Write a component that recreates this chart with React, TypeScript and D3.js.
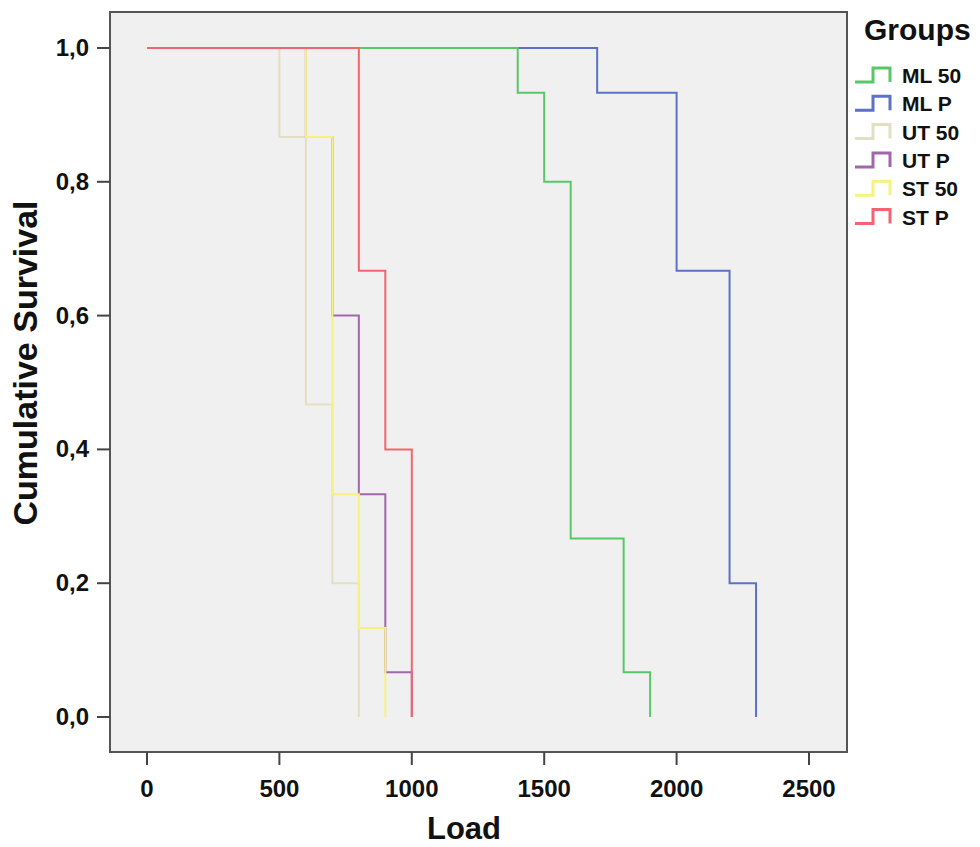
import React from "react";
import * as d3 from "d3";

const groupNames = ["ML 50", "ML P", "UT 50", "UT P", "ST 50", "ST P"];
const groupColors = ["#58c768", "#5b72c6", "#e2dfc2", "#a266ab", "#f6f27e", "#f2646f"];

const mlLoad = [0, 1400, 1500, 1600, 1800, 1900];
const mlSurv = [1, 0.933, 0.8, 0.267, 0.067, 0];
const mlpLoad = [0, 1700, 2000, 2200, 2300];
const mlpSurv = [1, 0.933, 0.667, 0.2, 0];
const ut50Load = [0, 500, 600, 700, 800];
const ut50Surv = [1, 0.867, 0.467, 0.2, 0];
const utpLoad = [0, 600, 700, 800, 900, 1000];
const utpSurv = [1, 0.867, 0.6, 0.333, 0.067, 0];
const st50Load = [0, 600, 700, 800, 900];
const st50Surv = [1, 0.867, 0.333, 0.133, 0];
const stpLoad = [0, 800, 900, 1000];
const stpSurv = [1, 0.667, 0.4, 0];

const xTicks = [0, 500, 1000, 1500, 2000, 2500];
const yTicks = [0, 0.2, 0.4, 0.6, 0.8, 1.0];

const seriesLoads = [mlLoad, mlpLoad, ut50Load, utpLoad, st50Load, stpLoad];
const seriesSurv = [mlSurv, mlpSurv, ut50Surv, utpSurv, st50Surv, stpSurv];
// drawing order (blue under green so green shows on the 1,0 level)
const drawOrder = [1, 0, 2, 3, 4, 5];

export default function App() {
  const W = 980, H = 847;
  const frame = { left: 110, right: 847, top: 12, bottom: 752 };
  const x = d3.scaleLinear().domain([0, 2500]).range([147, 809]);
  const y = d3.scaleLinear().domain([0, 1]).range([717, 48]);
  const line = d3
    .line<[number, number]>()
    .x((d) => x(d[0]))
    .y((d) => y(d[1]))
    .curve(d3.curveStepAfter);
  const font = "'Liberation Sans', Arial, sans-serif";
  const fmt = (v: number) => d3.format(".1f")(v).replace(".", ",");

  return (
    <svg width={W} height={H} style={{ position: "absolute", left: 0, top: 0 }} fontFamily={font}>
      <rect x={0} y={0} width={W} height={H} fill="#ffffff" />
      <rect
        x={frame.left}
        y={frame.top}
        width={frame.right - frame.left}
        height={frame.bottom - frame.top}
        fill="#f0f0f0"
        stroke="#555"
        strokeWidth={2}
      />
      {drawOrder.map((i) => {
        const pts: [number, number][] = seriesLoads[i].map((l, j) => [l, seriesSurv[i][j]]);
        return (
          <path key={i} d={line(pts) || ""} fill="none" stroke={groupColors[i]} strokeWidth={2} />
        );
      })}
      {xTicks.map((t) => (
        <g key={"x" + t}>
          <line x1={x(t)} x2={x(t)} y1={frame.bottom} y2={frame.bottom + 13} stroke="#444" strokeWidth={2} />
          <text x={x(t)} y={797} textAnchor="middle" fontSize={24} fontWeight="bold" fill="#111">
            {t}
          </text>
        </g>
      ))}
      {yTicks.map((t) => (
        <g key={"y" + t}>
          <line x1={frame.left - 13} x2={frame.left} y1={y(t)} y2={y(t)} stroke="#444" strokeWidth={2} />
          <text x={89} y={y(t) + 8} textAnchor="end" fontSize={24} fontWeight="bold" fill="#111">
            {fmt(t)}
          </text>
        </g>
      ))}
      <text x={464} y={839} textAnchor="middle" fontSize={31} fontWeight="bold" fill="#111">
        Load
      </text>
      <text
        transform={`translate(37, 363) rotate(-90)`}
        textAnchor="middle"
        fontSize={34}
        fontWeight="bold"
        fill="#111"
      >
        Cumulative Survival
      </text>
      <text x={864} y={40} fontSize={30} fontWeight="bold" fill="#111">
        Groups
      </text>
      {groupNames.map((g, i) => {
        const base = 83 + i * 28.3;
        return (
          <g key={g}>
            <path
              d={`M855,${base - 1} H873 V${base - 15} H890 V${base - 1}`}
              fill="none"
              stroke={groupColors[i]}
              strokeWidth={3}
            />
            <text x={902} y={base} fontSize={21} fontWeight="bold" fill="#111">
              {g}
            </text>
          </g>
        );
      })}
    </svg>
  );
}
